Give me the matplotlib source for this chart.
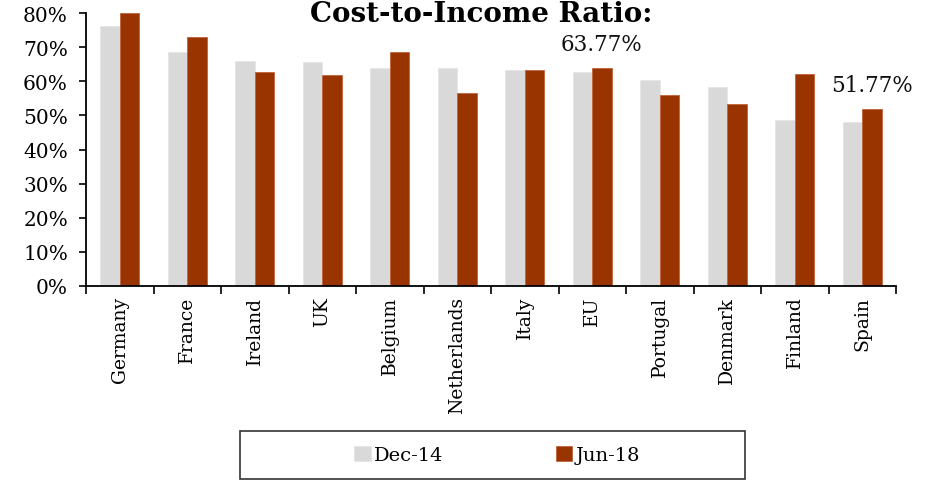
"""Cost-to-income ratio by country, Dec-14 vs Jun-18."""

import matplotlib

matplotlib.use("Agg")

import matplotlib.pyplot as plt
import numpy as np
from matplotlib.patches import Rectangle
from matplotlib.ticker import FuncFormatter

countries = ["Germany", "France", "Ireland", "UK", "Belgium", "Netherlands",
             "Italy", "EU", "Portugal", "Denmark", "Finland", "Spain"]
dec_14 = [76.2, 68.6, 65.9, 65.7, 63.9, 63.8, 63.3, 62.8, 60.5, 58.3, 48.6, 48.1]
jun_18 = [80.0, 73.0, 62.7, 61.7, 68.5, 56.7, 63.3, 63.77, 55.9, 53.2, 62.0, 51.77]
labelled = {"EU": "63.77%", "Spain": "51.77%"}

GREY = "#D9D9D9"
RUST = "#993300"

plt.rcParams["font.family"] = ["DejaVu Serif"]

fig = plt.figure(figsize=(9.3, 4.81), dpi=100)
ax = fig.add_axes([86 / 930, 1 - 287 / 481, 810 / 930, 273 / 481])

x = np.arange(len(countries))
width = 0.286
ax.bar(x - width / 2, np.array(dec_14) / 100, width, color=GREY,
       edgecolor="#E6E6E6", linewidth=0.6, label="Dec-14")
ax.bar(x + width / 2, np.array(jun_18) / 100, width, color=RUST,
       edgecolor="#C0643A", linewidth=0.6, label="Jun-18")

for i, name in enumerate(countries):
    if name in labelled:
        ax.text(x[i] + width / 2, jun_18[i] / 100 + 0.072, labelled[name],
                ha="center", va="center", fontsize=15.5, color="#111111")

ax.set_xlim(-0.5, len(countries) - 0.5)
ax.set_ylim(0, 0.8)
ax.set_yticks(np.arange(0, 0.81, 0.1))
ax.yaxis.set_major_formatter(FuncFormatter(lambda v, _: "{:.0f}%".format(v * 100)))
ax.set_xticks(np.arange(-0.5, len(countries), 1.0))
ax.set_xticklabels([])
ax.set_xticks(x, minor=True)
ax.set_xticklabels(countries, minor=True, rotation=90, va="top", ha="center")
ax.tick_params(axis="x", which="minor", length=0, pad=7, labelsize=13.5)
ax.tick_params(axis="x", which="major", length=6, width=1.2, direction="out")
ax.tick_params(axis="y", length=5, width=1.2, direction="out", labelsize=14.5, pad=8)

for side in ["top", "right"]:
    ax.spines[side].set_visible(False)
for side in ["left", "bottom"]:
    ax.spines[side].set_linewidth(1.3)

fig.text(481 / 930, 1 - 22 / 481, "Cost-to-Income Ratio:", ha="center",
         va="baseline", fontsize=20, fontweight="bold")

# legend box drawn separately so it can be wider than its entries
fig.patches.append(Rectangle((240 / 930, 1 - 480 / 481), 505 / 930, 48 / 481,
                             transform=fig.transFigure, fill=False,
                             edgecolor="#333333", linewidth=1.2))
fig.legend(loc="center", bbox_to_anchor=(497 / 930, 1 - 456 / 481),
           ncol=2, frameon=False, fontsize=14,
           handlelength=0.85, handleheight=0.8, handletextpad=0.15,
           columnspacing=5.8)

fig.savefig("out.png", dpi=100)
